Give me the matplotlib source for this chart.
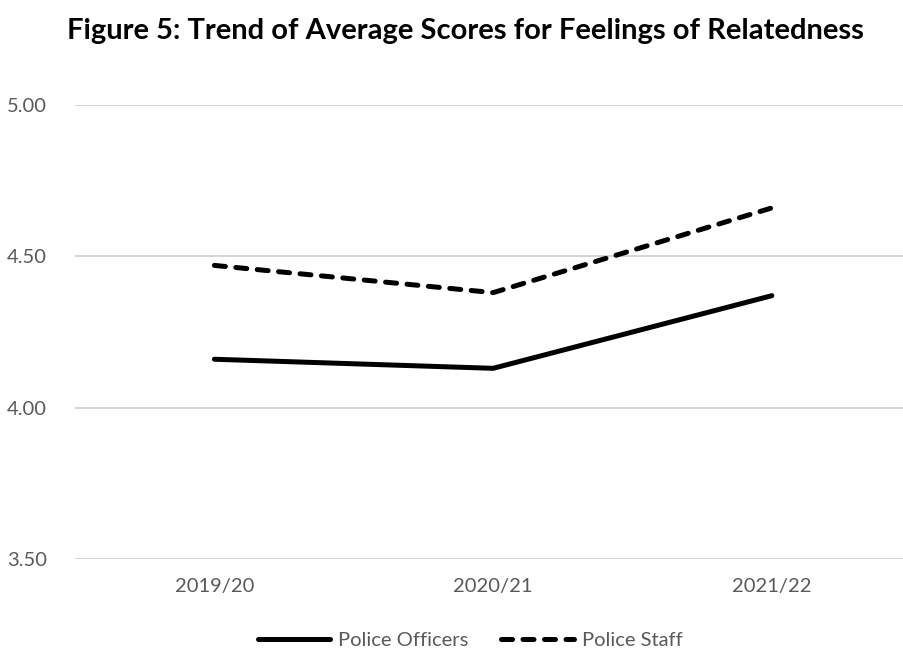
import matplotlib
matplotlib.use("Agg")
import matplotlib.pyplot as plt

plt.rcParams["font.family"] = ["Lato", "DejaVu Sans"]

years = ["2019/20", "2020/21", "2021/22"]
police_officers = [4.16, 4.13, 4.37]
police_staff = [4.47, 4.38, 4.66]
y_ticks = [3.50, 4.00, 4.50, 5.00]

fig = plt.figure(figsize=(9.04, 6.52), dpi=100)
ax = fig.add_axes([0.083, 0.1426, 0.925, 0.6964])

x = list(range(len(years)))

ax.plot(
    x,
    police_officers,
    color="black",
    linewidth=3.6,
    solid_capstyle="round",
    solid_joinstyle="round",
    label="Police Officers",
)

ax.plot(
    x,
    police_staff,
    color="black",
    linewidth=3.6,
    dash_capstyle="round",
    linestyle=(0, (2.2, 2.1)),
    label="Police Staff",
)

ax.set_xlim(-0.5, 2.5)
ax.set_ylim(3.5, 5.0)
ax.set_yticks(y_ticks)
ax.set_yticklabels([f"{v:.2f}" for v in y_ticks])
ax.set_xticks(x)
ax.set_xticklabels(years)

ax.grid(True, axis="y", color="#d4d4d4", linewidth=1.4)
ax.set_axisbelow(True)
for spine in ax.spines.values():
    spine.set_visible(False)
ax.tick_params(axis="both", length=0, labelsize=14.5, colors="#595959")
ax.tick_params(axis="y", pad=20)
ax.tick_params(axis="x", pad=14)

fig.text(
    0.515,
    0.953,
    "Figure 5: Trend of Average Scores for Feelings of Relatedness",
    ha="center",
    va="center",
    fontsize=21,
    fontweight="bold",
    color="black",
)

leg = fig.legend(
    loc="center",
    bbox_to_anchor=(0.52, 0.017),
    ncol=2,
    frameon=False,
    fontsize=14.5,
    handlelength=3.6,
    handletextpad=0.4,
    columnspacing=1.6,
)
for text in leg.get_texts():
    text.set_color("#595959")

fig.savefig("out.png", dpi=100)
